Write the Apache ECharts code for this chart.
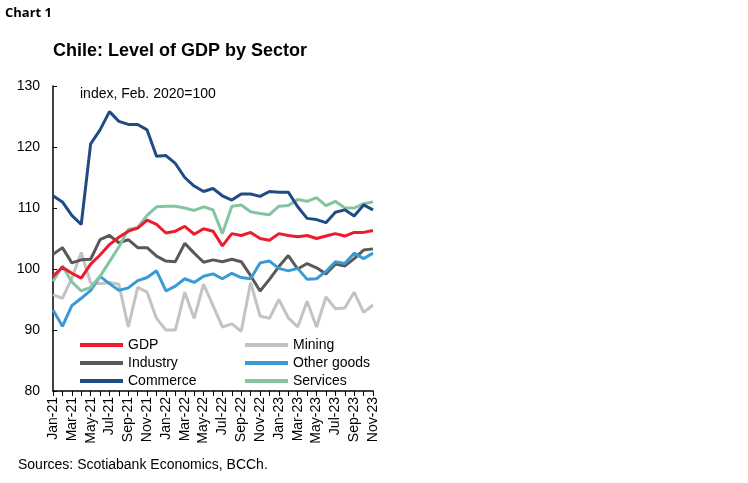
<!DOCTYPE html>
<html>
<head>
<meta charset="utf-8">
<script src="https://cdn.jsdelivr.net/npm/echarts@6/dist/echarts.min.js"></script>
<style>
  html, body { margin: 0; padding: 0; background: #fff; }
  #chart { width: 748px; height: 483px; }
</style>
</head>
<body>
<div id="chart"></div>
<script>
var months = ['Jan-21','Feb-21','Mar-21','Apr-21','May-21','Jun-21','Jul-21','Aug-21','Sep-21','Oct-21','Nov-21','Dec-21',
  'Jan-22','Feb-22','Mar-22','Apr-22','May-22','Jun-22','Jul-22','Aug-22','Sep-22','Oct-22','Nov-22','Dec-22',
  'Jan-23','Feb-23','Mar-23','Apr-23','May-23','Jun-23','Jul-23','Aug-23','Sep-23','Oct-23','Nov-23'];

var gdp = [98.8,100.3,99.3,98.5,100.8,102.3,104.0,105.2,106.2,106.7,108.0,107.3,
  105.9,106.2,107.0,105.7,106.6,106.2,103.8,105.8,105.5,106.0,105.0,104.7,
  105.8,105.5,105.3,105.5,105.0,105.4,105.8,105.4,106.0,106.0,106.3];
var mining = [95.8,95.2,98.5,102.7,97.7,97.6,97.8,97.5,90.5,97.0,96.2,91.9,
  90.0,90.0,96.2,91.9,97.5,94.0,90.5,91.0,89.8,97.8,92.3,91.9,
  95.0,92.0,90.5,94.7,90.5,95.4,93.5,93.6,96.2,92.9,94.1];
var industry = [102.4,103.5,101.0,101.5,101.6,104.8,105.5,104.3,104.8,103.5,103.5,102.1,
  101.3,101.2,104.2,102.6,101.1,101.5,101.2,101.6,101.2,98.9,96.4,98.3,
  100.4,102.2,100.0,100.9,100.2,99.2,100.8,100.5,101.7,103.1,103.3];
var otherGoods = [93.3,90.6,94.0,95.2,96.5,98.8,97.6,96.5,96.9,98.1,98.6,99.7,
  96.4,97.2,98.4,97.8,98.8,99.2,98.4,99.3,98.6,98.4,101.0,101.3,
  100.1,99.7,100.1,98.3,98.4,99.6,101.2,100.9,102.6,101.7,102.6];
var commerce = [112.0,111.0,108.8,107.3,120.5,122.8,125.8,124.2,123.7,123.7,122.8,118.5,
  118.6,117.3,115.0,113.6,112.7,113.2,112.0,111.3,112.3,112.3,111.9,112.7,
  112.6,112.6,110.2,108.3,108.1,107.6,109.3,109.7,108.7,110.5,109.7];
var services = [98.0,100.5,97.9,96.4,97.0,98.8,101.2,103.6,106.5,106.8,108.8,110.2,
  110.3,110.3,110.0,109.6,110.2,109.7,105.8,110.3,110.5,109.4,109.1,108.9,
  110.3,110.4,111.4,111.1,111.7,110.4,111.1,110.0,110.0,110.7,111.0];

var chart = echarts.init(document.getElementById('chart'));

function line(name, data, color) {
  return {
    name: name,
    type: 'line',
    data: data,
    showSymbol: false,
    lineStyle: { width: 3, color: color },
    itemStyle: { color: color },
    emphasis: { disabled: true }
  };
}

var legendText = { fontFamily: 'Liberation Sans', fontSize: 14, color: '#000', lineHeight: 16 };

var option = {
  animation: false,
  textStyle: { fontFamily: 'Liberation Sans' },
  graphic: [
    { type: 'text', left: 5, top: 7, style: { text: 'Chart 1', font: 'bold 13px "Open Sans"', fill: '#000' } },
    { type: 'text', left: 53, top: 42, style: { text: 'Chile: Level of GDP by Sector', font: 'bold 18px "Liberation Sans"', fill: '#000' } },
    { type: 'text', left: 80, top: 87, style: { text: 'index, Feb. 2020=100', font: '14px "Liberation Sans"', fill: '#000' } },
    { type: 'text', left: 18, top: 458, style: { text: 'Sources: Scotiabank Economics, BCCh.', font: '14px "Liberation Sans"', fill: '#000' } }
  ],
  legend: [
    {
      data: ['GDP', 'Industry', 'Commerce'],
      orient: 'vertical', left: 75, top: 332, itemGap: 2,
      icon: 'rect', itemWidth: 43, itemHeight: 4,
      textStyle: legendText
    },
    {
      data: ['Mining', 'Other goods', 'Services'],
      orient: 'vertical', left: 240, top: 332, itemGap: 2,
      icon: 'rect', itemWidth: 43, itemHeight: 4,
      textStyle: legendText
    }
  ],
  grid: { left: 53, right: 375, top: 86, bottom: 92 },
  xAxis: {
    type: 'category',
    data: months,
    boundaryGap: false,
    axisLine: { lineStyle: { color: '#000', width: 1.5 } },
    axisTick: { interval: 0, length: 5, lineStyle: { color: '#000' } },
    axisLabel: { interval: 1, rotate: 90, fontSize: 14, color: '#000', margin: 6 },
    splitLine: { show: false }
  },
  yAxis: {
    type: 'value',
    min: 80, max: 130, interval: 10,
    axisLine: { show: true, lineStyle: { color: '#000', width: 1.5 } },
    axisTick: { show: true, inside: true, length: 4, lineStyle: { color: '#000' } },
    axisLabel: { fontSize: 14, color: '#000', margin: 13 },
    splitLine: { show: false }
  },
  series: [
    line('Mining', mining, '#c3c3c3'),
    line('Industry', industry, '#595959'),
    line('Other goods', otherGoods, '#3a9ad6'),
    line('Services', services, '#84c4a0'),
    line('GDP', gdp, '#ec1c2e'),
    line('Commerce', commerce, '#1f4c85')
  ]
};

chart.setOption(option);
</script>
</body>
</html>
